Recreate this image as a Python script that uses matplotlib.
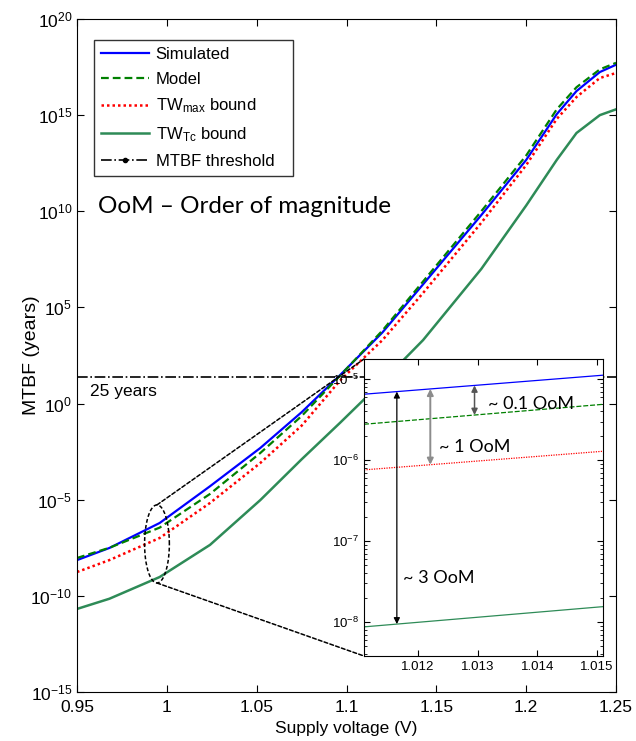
import numpy as np
import matplotlib
matplotlib.use("Agg")
from matplotlib import pyplot as plt
from matplotlib.lines import Line2D
from matplotlib.patches import ConnectionPatch

plt.rcParams['font.family'] = ['Liberation Sans', 'DejaVu Sans']
plt.rcParams['mathtext.fontset'] = 'custom'
plt.rcParams['mathtext.rm'] = 'Liberation Sans'
plt.rcParams['mathtext.it'] = 'Liberation Sans:italic'
plt.rcParams['mathtext.bf'] = 'Liberation Sans:bold'

# supply voltage (V) and log10(MTBF in years)
volt = [0.95, 0.968, 0.996, 1.024, 1.052, 1.075, 1.0964, 1.12, 1.1426, 1.175, 1.2, 1.217, 1.228, 1.241, 1.25]
sim_log = [-8.14, -7.51, -6.21, -4.3, -2.31, -0.45, 1.48, 3.7, 6.2, 9.8, 12.67, 15.05, 16.25, 17.24, 17.62]
model_log = [-8.03, -7.5, -6.45, -4.7, -2.57, -0.65, 1.45, 3.8, 6.35, 10.0, 12.9, 15.3, 16.45, 17.38, 17.72]
twmax_log = [-8.76, -8.14, -6.99, -5.17, -3.09, -1.15, 1.2, 3.3, 5.75, 9.4, 12.4, 14.8, 15.94, 16.93, 17.19]
twtc_log = [-10.68, -10.15, -9.02, -7.35, -5.02, -2.9, -1.0, 1.15, 3.3, 7.0, 10.3, 12.67, 14.07, 15.0, 15.3]

threshold_years = 25

# inset (zoomed) values
inset_volt = [1.0111, 1.0151]
inset_sim = [-5.185, -4.95]
inset_model = [-5.556, -5.31]
inset_twmax = [-6.12, -5.89]
inset_twtc = [-8.06, -7.81]

# ellipse marking the zoomed region (centre V, centre log10, half-width V, half-height decades)
ell_v, ell_log, ell_w, ell_h = 0.9945, -7.3, 0.0069, 2.03

calibri = ['Lato', 'DejaVu Sans']

fig = plt.figure(figsize=(6.36, 7.41), dpi=100)
ax = fig.add_axes([0.1211, 0.0661, 0.8475, 0.9083])

v = np.array(volt)
ax.plot(v, 10.0 ** np.array(sim_log), color='blue', lw=1.6, label='Simulated')
ax.plot(v, 10.0 ** np.array(model_log), color='#008000', lw=1.6, ls=(0, (3.5, 1.8)), label='Model')
ax.plot(v, 10.0 ** np.array(twmax_log), color='red', lw=1.8, ls=(0, (1, 1.2)), label=r'TW$_{\rm max}$ bound')
ax.plot(v, 10.0 ** np.array(twtc_log), color='#2E8B57', lw=1.8, label=r'TW$_{\rm Tc}$ bound')
ax.axhline(threshold_years, color='black', lw=1.2, ls='-.')
thr_handle = Line2D([], [], color='black', lw=1.2, ls='-.', marker='.', markersize=6)

ax.set_yscale('log')
ax.set_xlim(0.95, 1.25)
ax.set_ylim(1e-15, 1e20)
ax.set_yticks([10.0 ** k for k in range(-15, 21, 5)])
ax.yaxis.set_minor_locator(matplotlib.ticker.NullLocator())
ax.set_xticks([0.95, 1.0, 1.05, 1.1, 1.15, 1.2, 1.25])
ax.set_xticklabels(['0.95', '1', '1.05', '1.1', '1.15', '1.2', '1.25'])
ax.tick_params(direction='in', top=True, right=True, labelsize=12.5, length=5)
ax.tick_params(axis='x', pad=6)
ax.set_xlabel('Supply voltage (V)', fontsize=12.5, labelpad=4)
ax.set_ylabel('MTBF (years)', fontsize=14)
ax.yaxis.set_label_coords(-0.0686, 0.5)

ax.text(0.9572, 10 ** 0.39, '25 years', fontsize=12.5)
ax.text(0.9617, 10 ** 9.9, 'OoM \u2013 Order of magnitude', fontsize=17.5, family=calibri)

handles, labels = ax.get_legend_handles_labels()
handles.append(thr_handle)
labels.append('MTBF threshold')
leg = ax.legend(handles, labels, loc='upper left', bbox_to_anchor=(0.0315, 0.0, 0.369, 0.969),
                mode='expand', borderaxespad=0,
                fontsize=12, frameon=True, fancybox=False, edgecolor='black', numpoints=1,
                handlelength=2.9, labelspacing=0.6, borderpad=0.4, handletextpad=0.4)
leg.get_frame().set_linewidth(1.0)

# dashed ellipse around the zoomed region
t = np.linspace(0, 2 * np.pi, 200)
ax.plot(ell_v + ell_w * np.cos(t), 10.0 ** (ell_log + ell_h * np.sin(t)), color='black', lw=1.1, ls=(0, (2.5, 1.5)))

# inset
axin = fig.add_axes([0.5723, 0.1147, 0.3758, 0.4008])
iv = np.array(inset_volt)
axin.plot(iv, 10.0 ** np.array(inset_sim), color='blue', lw=0.9)
axin.plot(iv, 10.0 ** np.array(inset_model), color='#008000', lw=0.9, ls=(0, (4, 1.5)))
axin.plot(iv, 10.0 ** np.array(inset_twmax), color='red', lw=0.9, ls=(0, (1, 1)))
axin.plot(iv, 10.0 ** np.array(inset_twtc), color='#2E8B57', lw=0.9)
axin.set_yscale('log')
axin.set_xlim(1.0111, 1.0151)
axin.set_ylim(10 ** -8.42, 10 ** -4.75)
axin.set_xticks([1.012, 1.013, 1.014, 1.015])
axin.set_xticklabels(['1.012', '1.013', '1.014', '1.015'])
axin.set_yticks([1e-8, 1e-7, 1e-6, 1e-5])
axin.tick_params(which='both', direction='in', top=True, right=True, labelsize=9.5)
axin.tick_params(which='major', length=4)
axin.tick_params(which='minor', length=2.5)


def interp_log(xv, xs, ys):
    return 10.0 ** np.interp(xv, xs, ys)


def oom_arrow(xv, upper, lower, color, lw):
    axin.annotate('', xy=(xv, interp_log(xv, inset_volt, lower)),
                  xytext=(xv, interp_log(xv, inset_volt, upper)),
                  arrowprops=dict(arrowstyle='<|-|>', color=color, lw=lw, mutation_scale=9, shrinkA=0, shrinkB=0))


oom_arrow(1.01165, inset_sim, inset_twtc, 'black', 0.9)
oom_arrow(1.01221, inset_sim, inset_twmax, '#8c8c8c', 1.4)
oom_arrow(1.01295, inset_sim, inset_model, '#555555', 1.1)
axin.text(1.01318, 10 ** -5.37, '~ 0.1 OoM', fontsize=13, family=calibri)
axin.text(1.01235, 10 ** -5.9, '~ 1 OoM', fontsize=13, family=calibri)
axin.text(1.01175, 10 ** -7.52, '~ 3 OoM', fontsize=13, family=calibri)

# dashed lines from ellipse to inset corners
for frac_y, ey in [(1.0, ell_log + ell_h), (0.0, ell_log - ell_h)]:
    con = ConnectionPatch(xyA=(ell_v, 10.0 ** ey), coordsA=ax.transData,
                          xyB=(0.0, frac_y), coordsB=axin.transAxes,
                          color='black', lw=1.1, ls=(0, (2.5, 1.5)))
    fig.add_artist(con)

fig.savefig('out.png', dpi=100)
